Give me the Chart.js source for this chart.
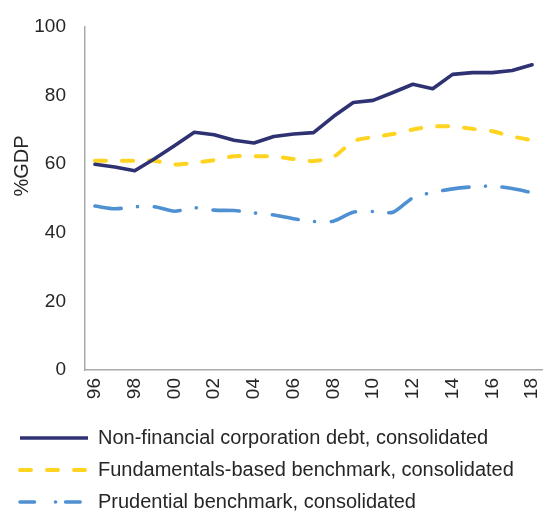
<!DOCTYPE html>
<html>
<head>
<meta charset="utf-8">
<script src="https://cdn.jsdelivr.net/npm/chart.js@4.4.1/dist/chart.umd.min.js"></script>
<style>
html,body{margin:0;padding:0;background:#fff;}
#wrap{width:547px;height:516px;position:relative;}
</style>
</head>
<body>
<div id="wrap"><canvas id="c"></canvas></div>
<script>
const years = ['96','97','98','99','00','01','02','03','04','05','06','07','08','09','10','11','12','13','14','15','16','17','18'];
const debt = [60.0,59.2,58.1,61.6,65.4,69.3,68.6,67.0,66.2,68.1,68.8,69.2,73.9,78.0,78.6,80.9,83.3,82.0,86.2,86.7,86.7,87.3,89.0];
const fundamentals = [61.0,61.0,61.0,61.0,59.9,60.4,61.2,62.3,62.3,62.3,61.5,60.9,62.1,66.7,67.9,68.8,70.1,71.0,71.0,70.3,69.6,68.1,67.0];
const prudential = [47.8,47.0,47.6,47.6,46.3,47.3,46.6,46.5,45.8,45.2,44.1,43.3,43.4,46.0,46.2,46.0,50.2,51.8,52.8,53.4,53.6,52.9,51.7];
const seriesNames = ['Non-financial corporation debt, consolidated','Fundamentals-based benchmark, consolidated','Prudential benchmark, consolidated'];
const yTitle = '%GDP';

const FONT = 'Liberation Sans, Arial, sans-serif';
const TXT = '#262626';
const AX = '#A9A9A9';

const legendDash = [[], [11,16], [14.5,21,0.1,10]];

const yTitlePlugin = {
  id: 'yTitle',
  afterDraw(chart) {
    const ctx = chart.ctx;
    const a = chart.chartArea;
    ctx.save();
    ctx.translate(22, a.top + 139);
    ctx.rotate(-Math.PI/2);
    ctx.fillStyle = TXT;
    ctx.font = '20px ' + FONT;
    ctx.textAlign = 'center';
    ctx.textBaseline = 'middle';
    ctx.fillText(yTitle, 0, 0);
    ctx.restore();
  }
};

new Chart(document.getElementById('c'), {
  type: 'line',
  data: {
    labels: years,
    datasets: [
      {label: seriesNames[0], data: debt, borderColor: '#2E3272', backgroundColor: '#2E3272', borderWidth: 3.6, pointRadius: 0, tension: 0, borderCapStyle: 'round', borderJoinStyle: 'round'},
      {label: seriesNames[1], data: fundamentals, borderColor: '#FFD420', backgroundColor: '#FFD420', borderWidth: 4, pointRadius: 0, tension: 0.25, borderDash: [11,16], borderCapStyle: 'round'},
      {label: seriesNames[2], data: prudential, borderColor: '#4E90D2', backgroundColor: '#4E90D2', borderWidth: 3.6, pointRadius: 0, tension: 0.25, borderDash: [26.5,16.5,0.1,16.5], borderCapStyle: 'round'}
    ]
  },
  options: {
    responsive: true,
    maintainAspectRatio: false,
    animation: false,
    layout: {padding: {left: 8, right: 5, top: 27, bottom: 0}},
    plugins: {
      tooltip: {enabled: false},
      legend: {
        position: 'bottom',
        align: 'start',
        maxHeight: 100,
        labels: {
          usePointStyle: true,
          pointStyle: 'line',
          pointStyleWidth: 68,
          padding: 12,
          color: TXT,
          font: {family: FONT, size: 20},
          generateLabels(chart) {
            const items = Chart.defaults.plugins.legend.labels.generateLabels(chart);
            items.forEach((it, i) => { it.lineDash = legendDash[i]; it.lineCap = i === 0 ? 'butt' : 'round'; it.pointStyle = 'line'; });
            return items;
          }
        }
      }
    },
    scales: {
      x: {
        type: 'category',
        offset: true,
        grid: {display: false, drawTicks: false},
        border: {display: true, color: AX, width: 1.5},
        ticks: {
          autoSkip: false, maxRotation: 90, minRotation: 90, padding: 8,
          color: TXT, font: {family: FONT, size: 19},
          callback: function(v, i) { return i % 2 === 0 ? this.getLabelForValue(v) : ''; }
        },
        afterFit(s) { s.height = 46; s.paddingRight = 0; s.paddingLeft = 0; }
      },
      y: {
        min: 0, max: 100,
        grid: {display: false, drawTicks: false},
        border: {display: true, color: AX, width: 1.5},
        ticks: {stepSize: 20, padding: 19, color: TXT, font: {family: FONT, size: 19}},
        afterFit(s) { s.width = 77; s.paddingTop = 0; s.paddingBottom = 0; }
      }
    }
  },
  plugins: [yTitlePlugin]
});
</script>
</body>
</html>
